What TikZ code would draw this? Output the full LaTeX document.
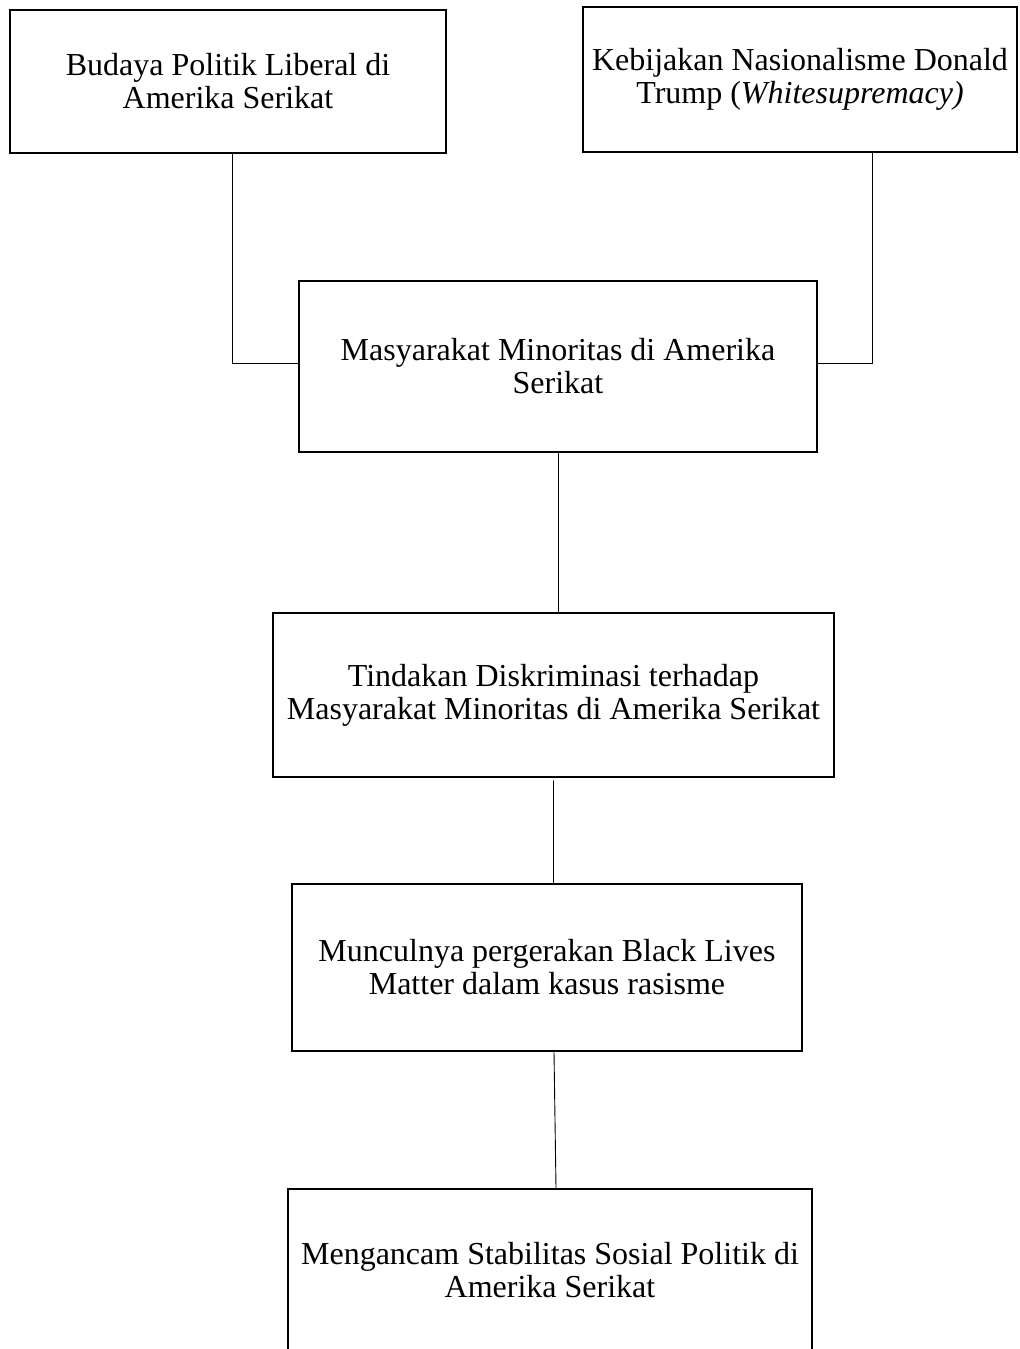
\documentclass[tikz,border=0pt]{standalone}
\usepackage{fontspec}
\setmainfont{Liberation Serif}
\usetikzlibrary{positioning}
\definecolor{ink}{HTML}{000000}

\begin{document}
\begin{tikzpicture}[x=0.5pt,y=-0.5pt,line cap=round,line join=miter,
    font=\fontsize{16}{16.5}\selectfont,
    box/.style={draw=ink,line width=0.9pt,rectangle,align=center,inner sep=0pt},
    link/.style={draw=ink,line width=0.45pt}]
  \useasboundingbox (0,0) rectangle (1019,1349);
  \clip (0,0) rectangle (1019,1349);

  % causes
  \node[box,minimum width=218pt,minimum height=71.5pt] (liberal) at (228,81.5)
    {Budaya Politik Liberal di\\Amerika Serikat};
  \node[box,minimum width=217pt,minimum height=72.5pt] (trump) at (800,79.5)
    {Kebijakan Nasionalisme Donald\\Trump (\textit{Whitesupremacy)}};

  % chain
  \node[box,minimum width=259pt,minimum height=85.5pt] (minor) at (558,366.5)
    {Masyarakat Minoritas di Amerika\\Serikat};
  \node[box,minimum width=280.5pt,minimum height=82pt] (diskrim) at (553.5,695)
    {Tindakan Diskriminasi terhadap\\Masyarakat Minoritas di Amerika Serikat};
  \node[box,minimum width=255pt,minimum height=83.5pt] (blm) at (547,967.5)
    {Munculnya pergerakan Black Lives\\Matter dalam kasus rasisme};
  \node[box,minimum width=262pt,minimum height=81pt] (stabil) at (550,1270)
    {Mengancam Stabilitas Sosial Politik di\\Amerika Serikat};

  % connectors
  \draw[link] ([xshift=2pt]liberal.south) |- ([yshift=1.5pt]minor.west);
  \draw[link] ([xshift=36pt]trump.south) |- ([yshift=1.5pt]minor.east);
  \draw[link] (minor.south) -- (minor.south |- diskrim.north);
  \draw[link] ([yshift=-1.5pt]diskrim.south) -- (diskrim.south |- blm.north);
  \draw[link] ([xshift=3.5pt]blm.south) -- ([xshift=3pt]stabil.north);
\end{tikzpicture}
\end{document}
